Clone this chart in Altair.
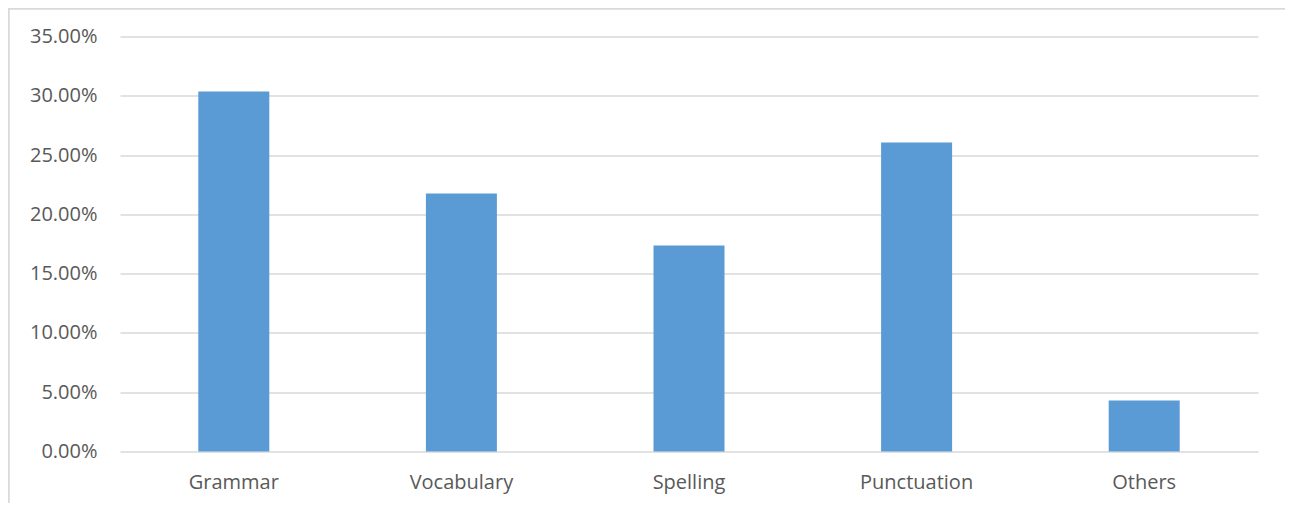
import altair as alt
import pandas as pd

categories = ["Grammar", "Vocabulary", "Spelling", "Punctuation", "Others"]
shares = [0.3036, 0.2176, 0.1737, 0.2606, 0.0430]

df = pd.DataFrame({"category": categories, "share": shares})

FONT = "Open Sans"

bars = alt.Chart(df).mark_bar(color="#5B9BD5").encode(
    x=alt.X("category:N", sort=categories, title=None,
            scale=alt.Scale(paddingInner=0.688, paddingOuter=0.344),
            axis=alt.Axis(labelAngle=0, ticks=False, domain=False, grid=False,
                          labelPadding=21, labelFontSize=20, labelColor="#595959",
                          labelFont=FONT)),
    y=alt.Y("share:Q", title=None,
            scale=alt.Scale(domain=[0, 0.35], nice=False),
            axis=alt.Axis(format=".2%", values=[0, 0.05, 0.1, 0.15, 0.2, 0.25, 0.3, 0.35],
                          ticks=False, domain=False, grid=True, gridColor="#d9d9d9",
                          gridWidth=1.5, labelPadding=23, labelFontSize=20,
                          labelColor="#595959", labelFont=FONT)),
)

border = alt.Chart(df).mark_rect(fill=None, stroke="#d9d9d9", strokeWidth=1.5).encode(
    x=alt.value(-111.5), x2=alt.value(1166.5), y=alt.value(-28), y2=alt.value(520)
)

chart = alt.layer(border, bars).properties(
    width=1138, height=415,
    autosize=alt.AutoSizeParams(type="none"),
    padding={"left": 112, "top": 28.5, "right": 27, "bottom": 51},
).configure(background="white", view=alt.ViewConfig(stroke=None))

chart.save("out.html", embed_options={"renderer": "svg", "actions": False})
